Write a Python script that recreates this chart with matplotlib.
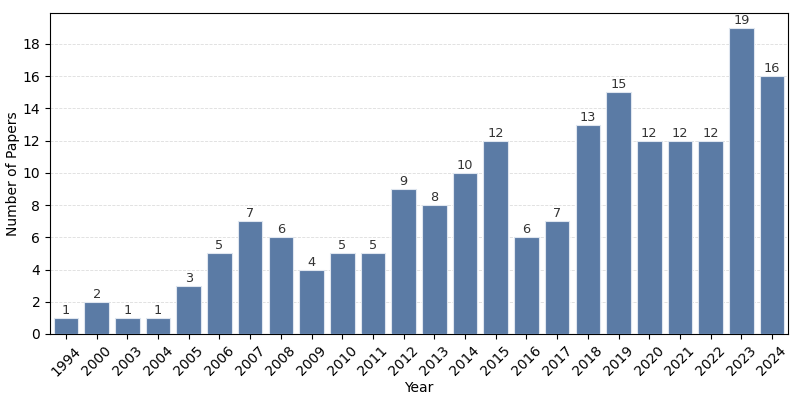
import matplotlib
matplotlib.use("Agg")
import matplotlib.pyplot as plt

years = ["1994", "2000", "2003", "2004", "2005", "2006", "2007", "2008", "2009", "2010", "2011", "2012",
         "2013", "2014", "2015", "2016", "2017", "2018", "2019", "2020", "2021", "2022", "2023", "2024"]
counts = [1, 2, 1, 1, 3, 5, 7, 6, 4, 5, 5, 9, 8, 10, 12, 6, 7, 13, 15, 12, 12, 12, 19, 16]

fig = plt.figure(figsize=(8, 3.96), dpi=100)
ax = fig.add_axes([0.0625, 0.1566, 0.9225, 0.8106])
x = range(len(years))
bars = ax.bar(x, counts, width=0.8, color="#5b7ba5", edgecolor="#dfe6ef", linewidth=0.8, zorder=3)
for xi, c in zip(x, counts):
    ax.text(xi, c + 0.06, str(c), ha="center", va="bottom", fontsize=9.3, color="#333333")
ax.set_xticks(list(x))
ax.set_xticklabels(years, rotation=45, fontsize=10)
ax.tick_params(axis="y", labelsize=10)
ax.set_xlim(-0.52, len(years) - 0.48)
ax.set_ylim(0, 19.92)
ax.set_yticks(range(0, 19, 2))
ax.yaxis.grid(True, linestyle="--", linewidth=0.6, color="#dddddd", zorder=0)
ax.set_axisbelow(True)
ax.set_xlabel("Year", fontsize=10, labelpad=2)
ax.set_ylabel("Number of Papers", fontsize=10, labelpad=2)
fig.savefig("out.png", dpi=100)
